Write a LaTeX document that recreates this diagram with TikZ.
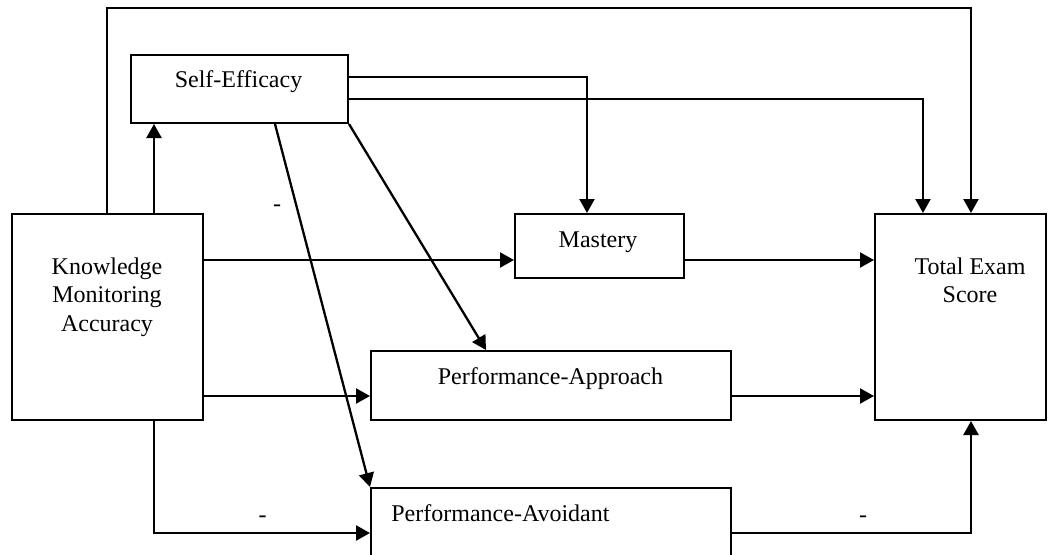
\documentclass[tikz,border=0pt]{standalone}
\usepackage{fontspec}
\setmainfont{Liberation Serif}
\usetikzlibrary{arrows.meta}
\begin{document}
\begin{tikzpicture}[x=0.5pt,y=-0.5pt,
  box/.style={draw, line width=1pt, rectangle, inner sep=0pt, anchor=north west},
  txt/.style={font=\fontsize{12}{14.4}\selectfont, inner sep=0pt},
  arr/.style={line width=1.15pt, -{Triangle[length=7pt,width=7.5pt]}},
  neg/.style={font=\fontsize{12}{14.4}\selectfont, inner sep=0pt, anchor=base}]
\useasboundingbox (0,0) rectangle (1055,554);
\clip (0,0) rectangle (1055,554);
% boxes
\node[box, minimum width=95.5pt, minimum height=103pt] (kma) at (11,213) {};
\node[box, minimum width=108.5pt, minimum height=34pt] (se) at (130,54) {};
\node[box, minimum width=84.5pt, minimum height=32pt] (ma) at (514,213) {};
\node[box, minimum width=85.5pt, minimum height=103pt] (total) at (874,213) {};
\node[box, minimum width=180pt, minimum height=34.5pt] (pa) at (370,350) {};
\node[box, minimum width=180pt, minimum height=50pt] (pv) at (370,487) {};
% texts
\node[txt, align=center, anchor=north] (kmat) at (107,257) {Knowledge\\Monitoring\\Accuracy};
\node[txt, anchor=base] (set) at (238.5,87) {Self-Efficacy};
\node[txt, anchor=base] (mat) at (598,247) {Mastery};
\node[txt, align=center, anchor=north] (tot) at (970,257) {Total Exam\\Score};
\node[txt, anchor=base] (pat) at (550.5,384) {Performance-Approach};
\node[txt, anchor=base west] (pvt) at (391,521) {Performance-Avoidant};
% helper coordinates
\coordinate (topL) at (107,8);
\coordinate (topR) at (971,8);
\coordinate (x154) at (154,0);
\coordinate (p1) at (587,77);
\coordinate (p2) at (923,99);
\coordinate (x486) at (486,0);
\coordinate (x275) at (275,0);
\coordinate (y260) at (0,260);
\coordinate (y396) at (0,396);
\coordinate (y533) at (0,533);
\coordinate (x971) at (971,0);
% connectors
\draw[arr] (kma.north -| topL) -- (topL) -- (topR) -- (topR |- total.north);
\draw[arr] (kma.north -| x154) -- (se.south -| x154);
\draw[arr] (se.east |- p1) -- (p1) -- (p1 |- ma.north);
\draw[arr] (se.east |- p2) -- (p2) -- (p2 |- total.north);
\draw[arr] (se.south east) -- (pa.north -| x486);
\draw[arr] (se.south -| x275) -- (pv.north west);
\draw[arr] (kma.east |- y260) -- (ma.west |- y260);
\draw[arr] (ma.east |- y260) -- (total.west |- y260);
\draw[arr] (kma.east |- y396) -- (pa.west |- y396);
\draw[arr] (pa.east |- y396) -- (total.west |- y396);
\draw[arr] (kma.south -| x154) |- (pv.west |- y533);
\draw[arr] (pv.east |- y533) -| (total.south -| x971);
% negative signs
\node[neg] (n1) at (277,211.5) {-};
\node[neg] (n2) at (262.5,522.5) {-};
\node[neg] (n3) at (863,522.5) {-};
\end{tikzpicture}
\end{document}
